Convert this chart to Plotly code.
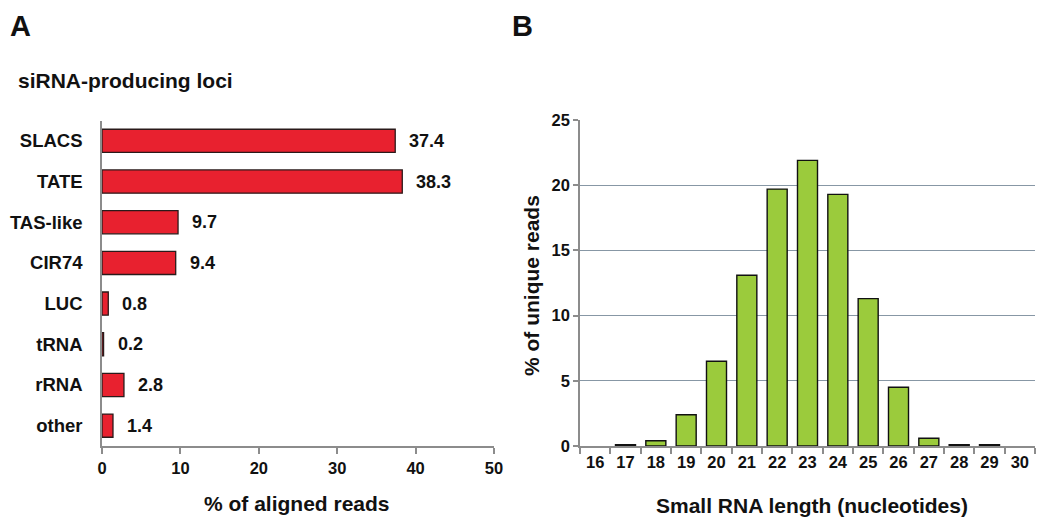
import plotly.graph_objects as go

loci = ["SLACS", "TATE", "TAS-like", "CIR74", "LUC", "tRNA", "rRNA", "other"]
loci_pct = [37.4, 38.3, 9.7, 9.4, 0.8, 0.2, 2.8, 1.4]

lengths = ["16", "17", "18", "19", "20", "21", "22", "23", "24", "25", "26", "27", "28", "29", "30"]
length_pct = [0, 0.1, 0.4, 2.4, 6.5, 13.1, 19.7, 21.9, 19.3, 11.3, 4.5, 0.6, 0.1, 0.1, 0]

ticks_a = [0, 10, 20, 30, 40, 50]
ticks_b = [0, 5, 10, 15, 20, 25]

FONT = "Arial, Liberation Sans, sans-serif"
OFF = 8  # page body margin
W, H = 1050 - OFF, 517 - OFF
INK = "#111111"
AXIS = "#8c8c8c"

def px(xp):
    return (xp - OFF) / W

def py(yp):
    return 1 - (yp - OFF) / H

fig = go.Figure()

fig.add_trace(go.Bar(
    x=loci_pct, y=loci, orientation="h",
    marker=dict(color="#E8212F", line=dict(color="#2a1a1a", width=1.3)),
    width=0.57, xaxis="x", yaxis="y", showlegend=False, hoverinfo="x+y",
))

for v, c in zip(loci_pct, loci):
    fig.add_annotation(x=v, y=c, xref="x", yref="y", text=f"<b>{v}</b>",
                       showarrow=False, xanchor="left", xshift=12,
                       font=dict(family=FONT, size=18, color=INK))

fig.add_trace(go.Bar(
    x=lengths, y=length_pct,
    marker=dict(color="#9BCB3C",
                line=dict(color=INK, width=[0 if v == 0 else 1.4 for v in length_pct])),
    xaxis="x2", yaxis="y2", showlegend=False,
))

tick_font = dict(family=FONT, size=16.5, color=INK)
cat_font = dict(family=FONT, size=18.5, color=INK)

fig.update_layout(
    template="none",
    width=W, height=H,
    margin=dict(l=0, r=0, t=0, b=0),
    paper_bgcolor="white", plot_bgcolor="white",
    bargap=0.34,
    xaxis=dict(domain=[px(102), px(494)], range=[0, 50], tickvals=ticks_a,
               ticktext=[f"<b>{t}</b>" for t in ticks_a], automargin=False,
               showgrid=False, zeroline=False, showline=True, linecolor=AXIS, linewidth=1.5,
               ticks="outside", ticklen=6, tickcolor=AXIS, tickwidth=1.5, tickfont=tick_font,
               anchor="y"),
    yaxis=dict(domain=[py(446), py(120.5)], categoryorder="array", categoryarray=loci[::-1],
               tickvals=loci, ticktext=[f"<b>{c}</b>" for c in loci], automargin=False,
               showgrid=False, zeroline=False, showline=True, linecolor=AXIS, linewidth=1.5,
               ticks="", tickfont=cat_font, ticklabelstandoff=14, anchor="x"),
    xaxis2=dict(domain=[px(580), px(1035)], type="category", tickson="boundaries",
                tickvals=lengths, ticktext=[f"<b>{t}</b>" for t in lengths], automargin=False,
                showgrid=False, zeroline=False, showline=True, linecolor=AXIS, linewidth=1.5,
                ticks="outside", ticklen=6, tickcolor=AXIS, tickwidth=1.5, tickfont=tick_font,
                anchor="y2"),
    yaxis2=dict(domain=[py(446), py(120)], range=[0, 25], tickvals=ticks_b,
                ticktext=[f"<b>{t}</b>" for t in ticks_b], automargin=False,
                showgrid=True, gridcolor="#8797a5", gridwidth=1.2, zeroline=False,
                showline=True, linecolor=AXIS, linewidth=1.5,
                ticks="outside", ticklen=5, tickcolor=AXIS, tickwidth=1.5, tickfont=tick_font,
                anchor="x2"),
)

def label(text, x, y, size, xanchor="center", yanchor="middle", angle=0):
    fig.add_annotation(x=px(x), y=py(y), xref="paper", yref="paper", text=f"<b>{text}</b>",
                       showarrow=False, xanchor=xanchor, yanchor=yanchor, textangle=angle,
                       font=dict(family=FONT, size=size, color=INK))

label("A", 8, 8, 29, xanchor="left", yanchor="top")
label("B", 510, 8, 29, xanchor="left", yanchor="top")
label("siRNA-producing loci", 16, 80, 21, xanchor="left")
label("% of aligned reads", 297, 503, 21)
label("Small RNA length (nucleotides)", 812, 505, 21)
label("% of unique reads", 531, 286, 21, angle=-90)

fig.write_html("out.html")
